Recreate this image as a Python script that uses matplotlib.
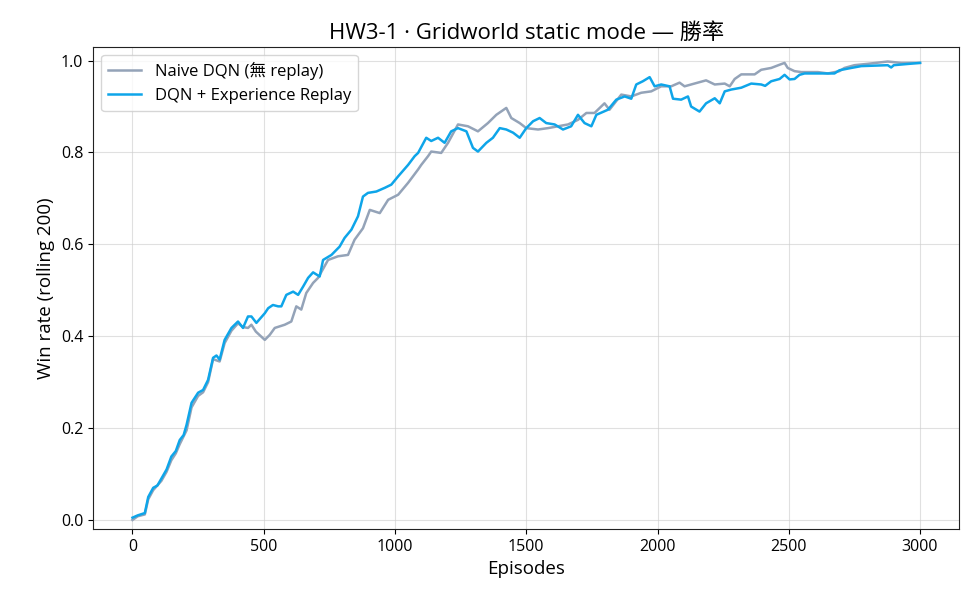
import matplotlib
matplotlib.use('Agg')
import matplotlib.pyplot as plt

plt.rcParams['font.family'] = ['Open Sans', 'Noto Sans CJK TC', 'DejaVu Sans']

# DQN + Experience Replay (rolling 200 win rate)
replay_ep = [0, 20, 47, 60, 79, 95, 110, 130, 148, 165, 180, 195, 206, 225, 250, 269, 288, 307, 320, 332,
             351, 377, 402, 421, 440, 453, 472, 504, 517, 535, 555, 567, 586, 612, 631, 650, 669, 688, 713, 726,
             758, 789, 808, 834, 859, 878, 897, 929, 961, 986, 1012, 1050, 1075, 1088, 1119, 1138, 1164, 1189, 1214, 1240,
             1272, 1297, 1316, 1348, 1373, 1399, 1424, 1450, 1475, 1500, 1526, 1551, 1576, 1608, 1640, 1671, 1697, 1722, 1748, 1767,
             1811, 1843, 1875, 1900, 1919, 1944, 1970, 1989, 2014, 2046, 2059, 2090, 2116, 2128, 2160, 2185, 2218, 2237, 2256, 2281,
             2319, 2357, 2395, 2410, 2433, 2465, 2484, 2503, 2522, 2541, 2560, 2623, 2674, 2693, 2738, 2776, 2877, 2890, 2900, 3000]
replay_win = [0.005, 0.01, 0.015, 0.05, 0.07, 0.075, 0.09, 0.11, 0.138, 0.15, 0.174, 0.185, 0.207, 0.255, 0.277, 0.283, 0.305, 0.353, 0.358, 0.349,
              0.392, 0.418, 0.432, 0.418, 0.443, 0.443, 0.429, 0.45, 0.461, 0.468, 0.465, 0.465, 0.49, 0.497, 0.49, 0.508, 0.527, 0.539, 0.53, 0.566,
              0.577, 0.595, 0.614, 0.632, 0.661, 0.704, 0.712, 0.715, 0.723, 0.73, 0.748, 0.773, 0.792, 0.799, 0.832, 0.825, 0.832, 0.821, 0.846, 0.853,
              0.846, 0.81, 0.802, 0.821, 0.832, 0.853, 0.85, 0.843, 0.832, 0.853, 0.868, 0.875, 0.864, 0.861, 0.85, 0.857, 0.882, 0.864, 0.857, 0.882,
              0.893, 0.915, 0.922, 0.917, 0.948, 0.955, 0.964, 0.944, 0.948, 0.944, 0.917, 0.915, 0.922, 0.9, 0.889, 0.907, 0.918, 0.907, 0.933, 0.937,
              0.941, 0.95, 0.948, 0.945, 0.955, 0.96, 0.969, 0.959, 0.96, 0.969, 0.972, 0.972, 0.972, 0.979, 0.984, 0.988, 0.99, 0.985, 0.99, 0.995]

# Naive DQN (no replay)
naive_ep = [0, 20, 47, 60, 79, 110, 130, 148, 165, 180, 206, 225, 250, 269, 288, 307, 332, 351, 377, 402,
            421, 440, 453, 470, 504, 523, 542, 580, 605, 624, 643, 662, 688, 707, 745, 783, 821, 846, 878, 904,
            942, 974, 1012, 1050, 1088, 1100, 1126, 1138, 1164, 1176, 1202, 1240, 1278, 1316, 1354, 1386, 1424, 1443, 1475, 1500,
            1545, 1583, 1621, 1659, 1697, 1729, 1760, 1798, 1817, 1862, 1900, 1938, 1976, 2014, 2052, 2084, 2103, 2128, 2185, 2218,
            2256, 2275, 2294, 2319, 2370, 2395, 2433, 2465, 2484, 2496, 2522, 2548, 2611, 2649, 2693, 2712, 2750, 2801, 2877, 2928, 3000]
naive_win = [0.0, 0.008, 0.012, 0.045, 0.065, 0.085, 0.105, 0.13, 0.145, 0.165, 0.195, 0.245, 0.27, 0.278, 0.3, 0.35, 0.345, 0.385, 0.412, 0.428,
             0.42, 0.418, 0.425, 0.41, 0.392, 0.403, 0.418, 0.425, 0.432, 0.465, 0.458, 0.494, 0.516, 0.527, 0.566, 0.574, 0.577, 0.61, 0.635, 0.675,
             0.668, 0.697, 0.708, 0.734, 0.763, 0.773, 0.792, 0.802, 0.8, 0.799, 0.821, 0.861, 0.857, 0.846, 0.864, 0.882, 0.897, 0.875, 0.864, 0.853,
             0.85, 0.853, 0.857, 0.861, 0.871, 0.886, 0.886, 0.907, 0.893, 0.926, 0.922, 0.93, 0.933, 0.944, 0.944, 0.952, 0.944, 0.948, 0.957, 0.948,
             0.95, 0.944, 0.96, 0.97, 0.97, 0.98, 0.984, 0.991, 0.995, 0.984, 0.977, 0.975, 0.975, 0.972, 0.977, 0.984, 0.99, 0.993, 0.998, 0.995, 0.995]

fig, ax = plt.subplots(figsize=(9.8, 6.16), dpi=100)
fig.subplots_adjust(left=0.095, right=0.979, top=0.924, bottom=0.141)

ax.plot(naive_ep, naive_win, color='#94a3b8', linewidth=1.8, label='Naive DQN (無 replay)')
ax.plot(replay_ep, replay_win, color='#0ea5e9', linewidth=1.8, label='DQN + Experience Replay')

ax.set_xlim(-150, 3150)
ax.set_ylim(-0.02, 1.03)
ax.set_xticks([0, 500, 1000, 1500, 2000, 2500, 3000])
ax.set_yticks([0.0, 0.2, 0.4, 0.6, 0.8, 1.0])
ax.grid(True, color='#cccccc', alpha=0.6, linewidth=0.8)
ax.tick_params(labelsize=11.5)
for sp in ax.spines.values():
    sp.set_color('#222222')

ax.set_title('HW3-1 · Gridworld static mode — 勝率', fontsize=16)
ax.set_xlabel('Episodes', fontsize=13.5)
ax.set_ylabel('Win rate (rolling 200)', fontsize=13.5)
ax.legend(loc='upper left', fontsize=12)

fig.savefig('out.png', dpi=100)
